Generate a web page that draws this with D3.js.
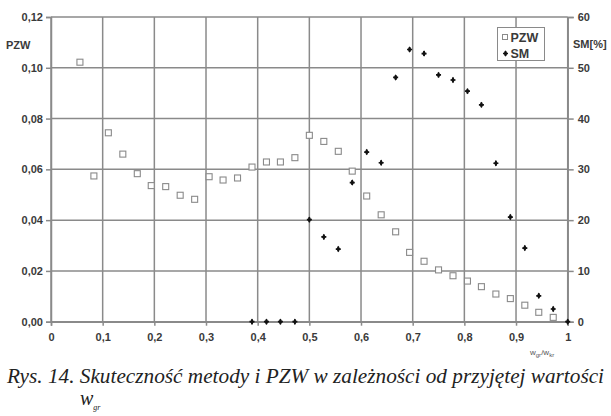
<!DOCTYPE html>
<html>
<head>
<meta charset="utf-8">
<script src="https://cdn.jsdelivr.net/npm/d3@7"></script>
<style>
  body { margin: 0; background: #fff; }
  text { font-family: "Liberation Sans", Arial, sans-serif; }
</style>
</head>
<body>
<div class="chart"></div>
<script>
// data
var pzwX = [0.056, 0.083, 0.111, 0.139, 0.167, 0.194, 0.222, 0.25, 0.278, 0.306, 0.333, 0.361,
            0.389, 0.417, 0.444, 0.472, 0.5, 0.528, 0.556, 0.583, 0.611, 0.639, 0.667, 0.694,
            0.722, 0.75, 0.778, 0.806, 0.833, 0.861, 0.889, 0.917, 0.944, 0.972];
var pzwY = [0.1022, 0.0574, 0.0744, 0.0660, 0.0583, 0.0536, 0.0532, 0.0498, 0.0482, 0.0571, 0.0558, 0.0566,
            0.0609, 0.0629, 0.0629, 0.0646, 0.0734, 0.0710, 0.0671, 0.0593, 0.0495, 0.0421, 0.0354, 0.0273,
            0.0238, 0.0204, 0.0181, 0.0160, 0.0138, 0.0109, 0.0091, 0.0065, 0.0037, 0.0017];
var smX = [0.389, 0.417, 0.444, 0.472, 0.5, 0.528, 0.556, 0.583, 0.611, 0.639, 0.667, 0.694,
           0.722, 0.75, 0.778, 0.806, 0.833, 0.861, 0.889, 0.917, 0.944, 0.972, 1.0];
var smY = [0, 0, 0, 0, 20.1, 16.7, 14.3, 27.4, 33.4, 31.3, 48.1, 53.6,
           52.8, 48.6, 47.6, 45.4, 42.7, 31.2, 20.6, 14.5, 5.1, 2.5, 0];
var xTicks = [0, 0.1, 0.2, 0.3, 0.4, 0.5, 0.6, 0.7, 0.8, 0.9, 1];
var leftTicks = [0, 0.02, 0.04, 0.06, 0.08, 0.10, 0.12];
var rightTicks = [0, 10, 20, 30, 40, 50, 60];

var margin = {top: 17, right: 43.3, bottom: 94.3, left: 51},
    W = 611, H = 416,
    width = W - margin.left - margin.right,
    height = H - margin.top - margin.bottom;

var svg = d3.select(".chart").append("svg")
    .attr("width", W)
    .attr("height", H);

var g = svg.append("g").attr("transform", "translate(" + margin.left + "," + margin.top + ")");

var x = d3.scaleLinear().domain([0, 1]).range([0, width]);
var yL = d3.scaleLinear().domain([0, 0.12]).range([height, 0]);
var yR = d3.scaleLinear().domain([0, 60]).range([height, 0]);

var gridCol = "#8a8a8a";
var comma = function(d, n) { return d.toFixed(n).replace(".", ","); };

// grid
g.selectAll(".hgrid").data(leftTicks).enter().append("line")
  .attr("x1", 0).attr("x2", width)
  .attr("y1", function(d) { return yL(d); }).attr("y2", function(d) { return yL(d); })
  .attr("stroke", gridCol).attr("stroke-width", 1.5);
g.selectAll(".vgrid").data(xTicks).enter().append("line")
  .attr("y1", 0).attr("y2", height)
  .attr("x1", function(d) { return x(d); }).attr("x2", function(d) { return x(d); })
  .attr("stroke", gridCol).attr("stroke-width", 1.5);

// axes
var axL = g.append("g").call(d3.axisLeft(yL).tickValues(leftTicks).tickSize(5).tickFormat(function(d) { return comma(d, 2); }));
var axR = g.append("g").attr("transform", "translate(" + width + ",0)")
  .call(d3.axisRight(yR).tickValues(rightTicks).tickSize(6).tickPadding(4));
var axB = g.append("g").attr("transform", "translate(0," + height + ")")
  .call(d3.axisBottom(x).tickValues(xTicks).tickSize(4).tickPadding(8)
    .tickFormat(function(d) { return d === 0 || d === 1 ? String(d) : comma(d, 1); }));

[axL, axR, axB].forEach(function(a) {
  a.select(".domain").attr("stroke", gridCol).attr("stroke-width", 1.5);
  a.selectAll(".tick line").attr("stroke", gridCol).attr("stroke-width", 1.5);
  a.selectAll("text").attr("fill", "#3a3a3a").style("font-size", "11px").style("font-weight", "bold");
});

// axis titles
svg.append("text").attr("x", 6).attr("y", 49).text("PZW")
  .attr("fill", "#3a3a3a").style("font-size", "11px").style("font-weight", "bold");
svg.append("text").attr("x", 573).attr("y", 48).text("SM[%]")
  .attr("fill", "#3a3a3a").style("font-size", "11px").style("font-weight", "bold");
var xt = svg.append("text").attr("x", 530).attr("y", 355)
  .attr("fill", "#555").style("font-size", "8px");
xt.append("tspan").text("w");
xt.append("tspan").attr("dy", 2).style("font-size", "6px").text("gr");
xt.append("tspan").attr("dy", -2).text("/w");
xt.append("tspan").attr("dy", 2).style("font-size", "6px").text("kr");

// PZW squares
g.selectAll(".pzw").data(pzwX).enter().append("rect")
  .attr("x", function(d) { return x(d) - 3; })
  .attr("y", function(d, i) { return yL(pzwY[i]) - 3; })
  .attr("width", 6).attr("height", 6)
  .attr("fill", "#fff").attr("stroke", "#8a8a8a").attr("stroke-width", 1.1);

// SM markers
var diamond = d3.symbol().type(d3.symbolDiamond).size(12);
var cross = d3.symbol().type(d3.symbolCross).size(14);
var sm = g.selectAll(".sm").data(smX).enter().append("g")
  .attr("transform", function(d, i) { return "translate(" + x(d) + "," + yR(smY[i]) + ")"; });
sm.append("path").attr("d", diamond).attr("fill", "#111");
sm.append("path").attr("d", cross).attr("fill", "#111");

// legend
var lg = svg.append("g").attr("transform", "translate(497.5,27.5)");
lg.append("rect").attr("width", 47).attr("height", 33)
  .attr("fill", "#fff").attr("stroke", "#8a8a8a").attr("stroke-width", 1);
lg.append("rect").attr("x", 5).attr("y", 7).attr("width", 5).attr("height", 5)
  .attr("fill", "#fff").attr("stroke", "#8a8a8a");
lg.append("text").attr("x", 13).attr("y", 14).text("PZW")
  .attr("fill", "#3a3a3a").style("font-size", "12.5px").style("font-weight", "bold");
var lsm = lg.append("g").attr("transform", "translate(8,26)");
lsm.append("path").attr("d", diamond).attr("fill", "#111");
lsm.append("path").attr("d", cross).attr("fill", "#111");
lg.append("text").attr("x", 13).attr("y", 30).text("SM")
  .attr("fill", "#3a3a3a").style("font-size", "12.5px").style("font-weight", "bold");

// caption
svg.append("text").attr("x", 7).attr("y", 383)
  .attr("textLength", 597).attr("lengthAdjust", "spacingAndGlyphs")
  .style("font-family", "'Liberation Serif', 'Times New Roman', serif")
  .style("font-style", "italic").style("font-size", "20px").attr("fill", "#222")
  .text("Rys. 14. Skuteczność metody i PZW w zależności od przyjętej wartości");
var cw = svg.append("text").attr("x", 80).attr("y", 405)
  .style("font-family", "'Liberation Serif', 'Times New Roman', serif")
  .style("font-style", "italic").style("font-size", "20px").attr("fill", "#222");
cw.append("tspan").text("w");
cw.append("tspan").attr("dy", 5).style("font-size", "8px").text("gr");
</script>
</body>
</html>
